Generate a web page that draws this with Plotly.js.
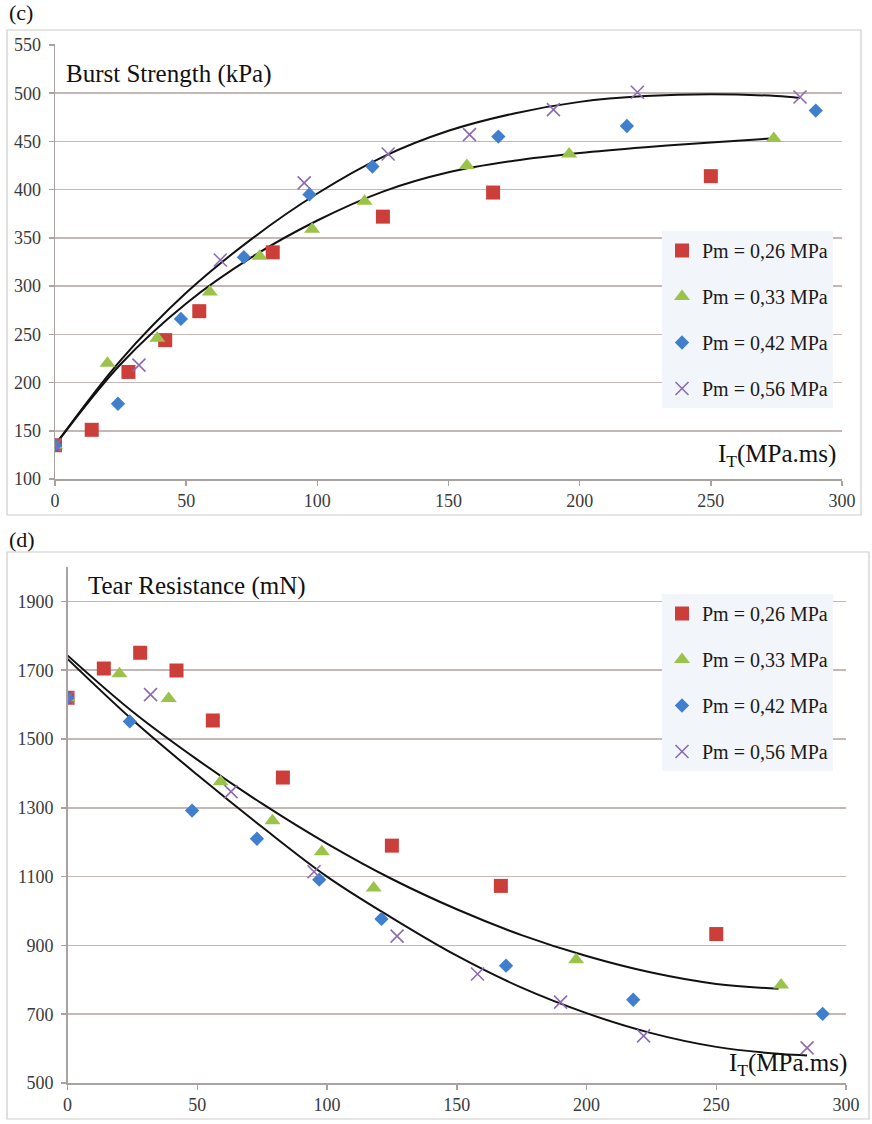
<!DOCTYPE html>
<html>
<head>
<meta charset="utf-8">
<script src="https://cdn.plot.ly/plotly-3.0.1.min.js"></script>
<style>html,body{margin:0;padding:0;background:#fff;}#chart{width:872px;height:1124px;}</style>
</head>
<body>
<div id="chart"></div>
<script>
// ---------- (c) Burst Strength (kPa) vs I_T (MPa.ms) ----------
const seriesNames = ["Pm = 0,26 MPa", "Pm = 0,33 MPa", "Pm = 0,42 MPa", "Pm = 0,56 MPa"];

const burstX026 = [0, 14, 28, 42, 55, 83, 125, 167, 250];
const burstY026 = [135, 151, 211, 244, 274, 335, 372, 397, 414];
const burstX033 = [0, 20, 39, 59, 78, 98, 118, 157, 196, 274];
const burstY033 = [135, 220, 246, 294, 331, 359, 388, 425, 437, 453];
const burstX042 = [0, 24, 48, 72, 97, 121, 169, 218, 290];
const burstY042 = [135, 178, 266, 330, 395, 424, 455, 466, 482];
const burstX056 = [0, 32, 63, 95, 127, 158, 190, 222, 284];
const burstY056 = [135, 218, 327, 407, 437, 457, 483, 501, 496];

// trend lines, values
const burstTrendUpX = [0, 25, 50, 75, 100, 125, 150, 175, 200, 225, 250, 275, 284];
const burstTrendUpY = [135, 223, 293, 349, 396, 434, 461, 479, 491, 497, 499, 497, 495];
const burstTrendLoX = [0, 25, 50, 75, 100, 125, 150, 175, 200, 225, 250, 273];
const burstTrendLoY = [135, 219, 282, 330, 368, 398, 418, 430, 438, 444, 449, 453];

// ---------- (d) Tear Resistance (mN) vs I_T (MPa.ms) ----------
const tearX026 = [0, 14, 28, 42, 56, 83, 125, 167, 250];
const tearY026 = [1620, 1705, 1751, 1699, 1554, 1388, 1190, 1073, 933];
const tearX033 = [0, 20, 39, 59, 79, 98, 118, 196, 275];
const tearY033 = [1620, 1690, 1618, 1376, 1262, 1172, 1067, 858, 785];
const tearX042 = [0, 24, 48, 73, 97, 121, 169, 218, 291];
const tearY042 = [1620, 1551, 1292, 1210, 1091, 977, 841, 742, 701];
const tearX056 = [0, 32, 63, 95, 127, 158, 190, 222, 285];
const tearY056 = [1620, 1629, 1347, 1114, 927, 817, 735, 637, 602];

const tearTrendUpX = [0, 25, 50, 75, 100, 125, 150, 175, 200, 225, 250, 274];
const tearTrendUpY = [1743, 1580, 1440, 1312, 1196, 1093, 1005, 930, 869, 821, 788, 774];
const tearTrendLoX = [0, 25, 50, 75, 100, 125, 150, 175, 200, 225, 250, 275, 285];
const tearTrendLoY = [1733, 1556, 1396, 1244, 1100, 980, 870, 777, 703, 645, 605, 584, 580];

const burstTicks = [100, 150, 200, 250, 300, 350, 400, 450, 500, 550];
const tearTicks = [500, 700, 900, 1100, 1300, 1500, 1700, 1900];
const xTicks = [0, 50, 100, 150, 200, 250, 300];

// ---------- styling ----------
const W = 872, H = 1124;
const px = v => v / W;
const py = v => 1 - v / H;
const SERIF = "'Liberation Serif', 'Times New Roman', 'DejaVu Serif', serif";
const colors = ["#CC3E3A", "#9BC249", "#3F7FCE", "#8C6BB1"];
const markerDefs = [
  {symbol: "square", size: 14, color: colors[0]},
  {symbol: "triangle-up", size: 14, color: colors[1]},
  {symbol: "diamond", size: 11, color: colors[2]},
  {symbol: "x-thin-open", size: 13, color: colors[3], line: {color: colors[3], width: 1.6}}
];

function pointTrace(x, y, i, xa, ya, leg, grp) {
  const m = Object.assign({}, markerDefs[i]);
  return {x: x, y: y, type: "scatter", mode: "markers", name: seriesNames[i],
          xaxis: xa, yaxis: ya, legend: leg, legendgroup: grp + i,
          marker: m, hoverinfo: "x+y"};
}
function trendTrace(x, y, xa, ya) {
  return {x: x, y: y, type: "scatter", mode: "lines", xaxis: xa, yaxis: ya,
          line: {color: "#111", width: 2, shape: "spline", smoothing: 1}, showlegend: false,
          hoverinfo: "skip"};
}

const data = [
  trendTrace(burstTrendUpX, burstTrendUpY, "x", "y"),
  trendTrace(burstTrendLoX, burstTrendLoY, "x", "y"),
  pointTrace(burstX026, burstY026, 0, "x", "y", "legend", "c"),
  pointTrace(burstX033, burstY033, 1, "x", "y", "legend", "c"),
  pointTrace(burstX042, burstY042, 2, "x", "y", "legend", "c"),
  pointTrace(burstX056, burstY056, 3, "x", "y", "legend", "c"),
  trendTrace(tearTrendUpX, tearTrendUpY, "x2", "y2"),
  trendTrace(tearTrendLoX, tearTrendLoY, "x2", "y2"),
  pointTrace(tearX026, tearY026, 0, "x2", "y2", "legend2", "d"),
  pointTrace(tearX033, tearY033, 1, "x2", "y2", "legend2", "d"),
  pointTrace(tearX042, tearY042, 2, "x2", "y2", "legend2", "d"),
  pointTrace(tearX056, tearY056, 3, "x2", "y2", "legend2", "d")
];

const tickFont = {family: SERIF, size: 18, color: "#3a3a3a"};
const axisLine = "#aaa1a1";
const gridCol = "#c4b8b7";

function xAxis(domain, anchor) {
  return {domain: domain, anchor: anchor, range: [0, 300], tickvals: xTicks, ticktext: xTicks.map(String),
          showgrid: false, zeroline: false, showline: true, linecolor: axisLine, linewidth: 1.5,
          ticks: "outside", ticklen: 5, tickwidth: 1.5, tickcolor: axisLine, tickfont: tickFont,
          fixedrange: true};
}
function yAxis(domain, anchor, range, vals, standoff) {
  return {domain: domain, anchor: anchor, range: range, tickvals: vals, ticktext: vals.map(String),
          showgrid: true, gridcolor: gridCol, gridwidth: 1.6, zeroline: false,
          showline: true, linecolor: axisLine, linewidth: 1.5,
          ticks: "outside", ticklen: 5, tickwidth: 1.5, tickcolor: axisLine, tickfont: tickFont,
          ticklabelstandoff: standoff, fixedrange: true};
}

const legendBase = {xanchor: "left", yanchor: "top", bgcolor: "#f2f5f9", borderwidth: 0,
  font: {family: SERIF, size: 20, color: "#1a1a1a"}, tracegroupgap: 17, itemwidth: 30,
  orientation: "v"};

const layout = {
  width: W, height: H,
  margin: {l: 0, r: 0, t: 0, b: 0},
  font: {family: SERIF},
  paper_bgcolor: "#ffffff", plot_bgcolor: "#ffffff",
  showlegend: true,
  xaxis: xAxis([px(55), px(842)], "y"),
  yaxis: yAxis([py(479), py(44)], "x", [100, 551], burstTicks, 4),
  xaxis2: xAxis([px(67.5), px(846)], "y2"),
  yaxis2: yAxis([py(1083), py(567)], "x2", [500, 2000], tearTicks, 4),
  legend: Object.assign({}, legendBase, {x: px(662), y: py(231)}),
  legend2: Object.assign({}, legendBase, {x: px(662), y: py(594)}),
  shapes: [
    {type: "rect", xref: "paper", yref: "paper", x0: px(7), x1: px(861), y0: py(515), y1: py(30),
     line: {color: "#cfcaca", width: 1.2}, layer: "below"},
    {type: "rect", xref: "paper", yref: "paper", x0: px(7), x1: px(869), y0: py(1119), y1: py(552),
     line: {color: "#cfcaca", width: 1.2}, layer: "below"}
  ],
  annotations: [
    {text: "(c)", xref: "paper", yref: "paper", x: px(7), y: py(13), xanchor: "left", yanchor: "middle",
     showarrow: false, font: {family: SERIF, size: 22, color: "#111"}},
    {text: "(d)", xref: "paper", yref: "paper", x: px(7), y: py(539), xanchor: "left", yanchor: "middle",
     showarrow: false, font: {family: SERIF, size: 22, color: "#111"}},
    {text: "Burst Strength (kPa)", xref: "paper", yref: "paper", x: px(64), y: py(74), xanchor: "left", yanchor: "middle",
     showarrow: false, font: {family: SERIF, size: 25, color: "#111"}},
    {text: "Tear Resistance (mN)", xref: "paper", yref: "paper", x: px(86), y: py(586), xanchor: "left", yanchor: "middle",
     showarrow: false, font: {family: SERIF, size: 25, color: "#111"}},
    {text: "I<sub>T</sub>(MPa.ms)", xref: "paper", yref: "paper", x: px(838), y: py(455), xanchor: "right", yanchor: "middle",
     showarrow: false, font: {family: SERIF, size: 25, color: "#111"}},
    {text: "I<sub>T</sub>(MPa.ms)", xref: "paper", yref: "paper", x: px(849), y: py(1064), xanchor: "right", yanchor: "middle",
     showarrow: false, font: {family: SERIF, size: 25, color: "#111"}}
  ]
};

Plotly.newPlot("chart", data, layout, {displayModeBar: false, staticPlot: true});
</script>
</body>
</html>
